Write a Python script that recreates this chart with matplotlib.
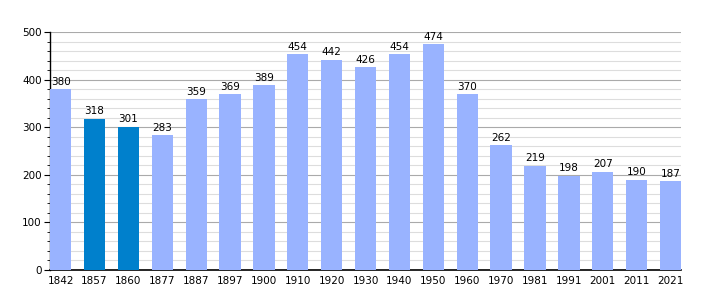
import matplotlib
matplotlib.use("Agg")
import matplotlib.pyplot as plt
from matplotlib.ticker import MultipleLocator

years = ["1842", "1857", "1860", "1877", "1887", "1897", "1900", "1910", "1920", "1930",
         "1940", "1950", "1960", "1970", "1981", "1991", "2001", "2011", "2021"]
population = [380, 318, 301, 283, 359, 369, 389, 454, 442, 426,
              454, 474, 370, 262, 219, 198, 207, 190, 187]
highlighted = ["1857", "1860"]

light = "#99b3ff"
dark = "#0080cc"
colors = [dark if y in highlighted else light for y in years]

fig = plt.figure(figsize=(7.1, 3.0), dpi=100)
ax = fig.add_axes([0.0704, 0.1, 0.889, 0.793])

width = 0.63
x = range(len(years))
ax.bar(x, population, width=width, color=colors, zorder=3)
for xi, v in zip(x, population):
    ax.text(xi, v + 5, str(v), ha="center", va="bottom", fontsize=7.5, color="#000000", zorder=4)

ax.set_xlim(-width / 2, len(years) - 1 + width / 2)
ax.set_ylim(0, 500)
ax.set_xticks(list(x))
ax.set_xticklabels(years)
ax.yaxis.set_major_locator(MultipleLocator(100))
ax.yaxis.set_minor_locator(MultipleLocator(20))

ax.grid(axis="y", which="major", color="#aaaaaa", linewidth=0.8, zorder=0)
ax.grid(axis="y", which="minor", color="#dddddd", linewidth=0.8, zorder=0)

for side in ["top", "right"]:
    ax.spines[side].set_visible(False)
ax.spines["left"].set_linewidth(1.0)
ax.spines["bottom"].set_linewidth(1.2)

ax.tick_params(axis="x", length=0, labelsize=7.5, pad=4)
ax.tick_params(axis="y", which="major", length=4, labelsize=7.5, pad=2)
ax.tick_params(axis="y", which="minor", length=2)

fig.savefig("out.png", dpi=100)
